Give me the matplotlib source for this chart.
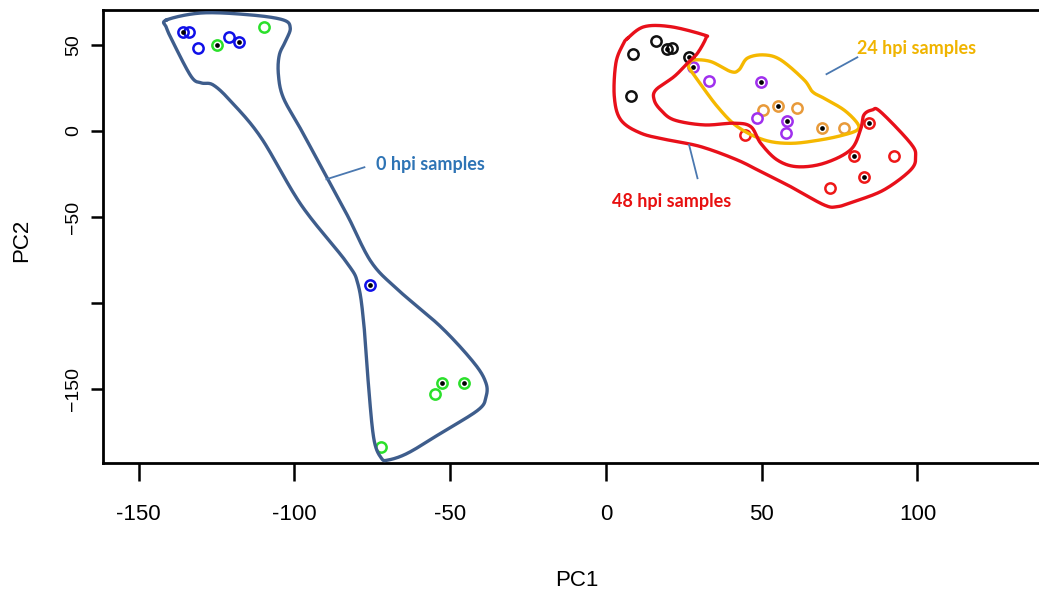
import numpy as np
import matplotlib
matplotlib.use("Agg")
import matplotlib.pyplot as plt

# ---------------- data ----------------
pc1 = [-135.7, -133.8, -130.9, -124.7, -120.9, -117.6, -109.7, -75.6, -52.7, -54.8, -45.6, -72.1,
       8.8, 16.1, 19.6, 21.1, 26.7, 28.1, 33.1, 8.2,
       49.9, 50.5, 55.2, 61.4, 48.4, 58.0, 57.7, 69.2, 76.5,
       84.4, 44.6, 79.7, 92.4, 82.9, 71.9]
pc2 = [57.7, 57.7, 48.1, 50.0, 54.5, 51.6, 60.7, -89.5, -146.7, -153.1, -146.7, -183.5,
       44.8, 52.5, 47.7, 48.5, 42.8, 37.4, 29.1, 20.3,
       28.5, 12.2, 14.5, 13.6, 7.4, 6.0, -1.4, 1.7, 1.7,
       4.8, -2.3, -14.5, -14.5, -26.9, -33.0]
point_colors = ["blue", "blue", "blue", "green", "blue", "blue", "green", "blue", "green", "green", "green", "green",
                "black", "black", "black", "black", "black", "purple", "purple", "black",
                "purple", "orange", "orange", "orange", "purple", "purple", "purple", "orange", "orange",
                "red", "red", "red", "red", "red", "red"]
has_dot = [1, 0, 0, 1, 0, 1, 0, 1, 1, 0, 1, 0,
           0, 0, 1, 0, 1, 1, 0, 0,
           1, 0, 1, 0, 0, 1, 0, 1, 0,
           1, 0, 1, 0, 1, 0]

hull0_x = [-141.0, -129.5, -113.8, -103.5, -101.3, -102.6, -104.8, -105.1, -103.5, -97.8, -89.1, -82.7,
           -75.3, -66.7, -52.9, -42.3, -38.5, -38.5, -41.0, -52.9, -63.5, -69.9, -72.1, -74.4,
           -76.0, -77.6, -79.5, -83.3, -97.8, -110.6, -120.2, -126.0, -129.8, -133.0, -138.5, -141.0]
hull0_y = [64.5, 68.6, 67.4, 64.5, 59.9, 52.9, 44.2, 32.6, 19.2, 0.6, -28.5, -50.0,
           -76.2, -92.4, -114.0, -134.9, -146.5, -154.7, -162.2, -175.6, -187.2, -191.3, -190.1, -179.7,
           -152.3, -114.0, -89.5, -76.2, -43.0, -4.1, 16.9, 26.7, 27.9, 31.4, 50.0, 59.9]

hull48_x = [7.0, 12.3, 20.8, 31.5, 32.1, 29.4, 26.2, 21.9, 16.0, 15.5, 17.6, 21.9, 31.5, 41.1, 46.5,
            49.7, 55.0, 61.4, 70.0, 78.5, 81.7, 82.8, 85.5, 88.1, 97.8, 99.4, 97.8, 89.2, 79.6, 74.3,
            70.0, 59.3, 50.7, 42.2, 30.4, 19.8, 11.2, 4.8, 2.7, 3.2, 5.4]
hull48_y = [53.9, 60.6, 60.6, 55.8, 53.9, 45.2, 39.4, 31.6, 23.8, 18.0, 12.2, 6.4, 3.5, 4.5, 2.5,
            -7.2, -16.9, -20.8, -18.8, -11.0, 0.6, 9.3, 12.2, 11.2, -7.2, -14.9, -22.7, -34.3, -41.1, -44.0,
            -43.0, -32.4, -24.6, -16.9, -9.1, -5.2, -1.3, 6.4, 19.9, 39.4, 50.0]

hull24_x = [26.7, 28.3, 33.7, 40.1, 42.7, 45.4, 50.7, 56.1, 63.6, 66.3, 70.0, 76.4, 80.7, 80.7,
            76.4, 68.9, 59.3, 50.7, 42.2, 35.8, 29.4, 26.7]
hull24_y = [39.4, 41.3, 40.3, 34.5, 35.5, 42.3, 44.2, 41.3, 29.7, 22.8, 19.0, 12.2, 4.5, 0.6,
            -2.3, -5.2, -7.2, -5.2, 2.5, 14.1, 29.7, 36.6]

group_labels = ["0 hpi samples", "24 hpi samples", "48 hpi samples"]
label_pos = [(-73.7, -19.8), (80.7, 48.1), (2.1, -41.1)]
leader_from = [(-89.7, -28.1), (70.8, 33.0), (26.7, -8.1)]
leader_to = [(-77.5, -21.1), (80.7, 42.8), (29.4, -27.5)]

x_ticks = [-150, -100, -50, 0, 50, 100]
x_ticklabels = ["-150", "-100", "-50", "0", "50", "100"]
y_ticks = [50, 0, -50, -100, -150]
y_ticklabels = ["50", "0", "\u221250", "", "\u2212150"]

# ---------------- styling ----------------
color_map = {"blue": "#1010E8", "green": "#2BE02B", "black": "#111111", "purple": "#A030EE",
             "orange": "#E89A3A", "red": "#EE1818"}
hull_colors = ["#3E5D8C", "#F5B800", "#E8101A"]
label_colors = ["#2E74B5", "#F0B400", "#E81010"]


def smooth_closed(xs, ys, n=24):
    P = np.column_stack([xs, ys]).astype(float)
    m = len(P)
    out = []
    for i in range(m):
        p0, p1, p2, p3 = P[(i - 1) % m], P[i], P[(i + 1) % m], P[(i + 2) % m]
        t = np.linspace(0, 1, n, endpoint=False)[:, None]
        pts = 0.5 * ((2 * p1) + (-p0 + p2) * t + (2 * p0 - 5 * p1 + 4 * p2 - p3) * t ** 2
                     + (-p0 + 3 * p1 - 3 * p2 + p3) * t ** 3)
        out.append(pts)
    out = np.vstack(out + [P[:1]])
    return out[:, 0], out[:, 1]


fig = plt.figure(figsize=(10.39, 5.97), dpi=100)
ax = fig.add_axes([103.3 / 1039, (597 - 463.3) / 597, (1039 - 103.3) / 1039, (463.3 - 10) / 597])
ax.set_xlim(-161.3, 139.0)
ax.set_ylim(-193.2, 70.3)

# points
for x, y, c, d in zip(pc1, pc2, point_colors, has_dot):
    ax.plot(x, y, marker="o", ms=7.4, mfc="none", mec=color_map[c], mew=1.8, ls="none", zorder=3)
    if d:
        ax.plot(x, y, marker="o", ms=3.4, mfc="black", mec="black", mew=0, ls="none", zorder=4)

# hulls
for hx, hy, hc in [(hull0_x, hull0_y, hull_colors[0]), (hull24_x, hull24_y, hull_colors[1]),
                   (hull48_x, hull48_y, hull_colors[2])]:
    sx, sy = smooth_closed(hx, hy)
    ax.plot(sx, sy, color=hc, lw=2.4, zorder=5, solid_joinstyle="round")

# labels + leaders
for lab, (lx, ly), (ax0, ay0), (ax1, ay1), lc in zip(group_labels, label_pos, leader_from, leader_to, label_colors):
    ax.plot([ax0, ax1], [ay0, ay1], color="#4A78B0", lw=1.3, zorder=5)
    ax.text(lx, ly, lab, color=lc, fontsize=13, fontweight="bold", family=["Lato", "DejaVu Sans"],
            ha="left", va="center", zorder=6)

# axes style
for s in ["top", "bottom", "left"]:
    ax.spines[s].set_linewidth(2.0)
    ax.spines[s].set_color("black")
ax.spines["right"].set_visible(False)

ax.set_xticks(x_ticks)
ax.set_xticklabels(x_ticklabels, family=["Liberation Sans", "DejaVu Sans"], fontsize=16)
ax.set_yticks(y_ticks)
ax.set_yticklabels(y_ticklabels, family=["Liberation Sans", "DejaVu Sans"], fontsize=14,
                   rotation=90, va="center")
ax.tick_params(axis="x", length=13, width=1.8, pad=16)
ax.tick_params(axis="y", length=9, width=1.8, pad=6)

fig.text(577 / 1039, 1 - 580 / 597, "PC1", ha="center", va="center", fontsize=16,
         family=["Liberation Sans", "DejaVu Sans"])
fig.text(22 / 1039, 1 - 240 / 597, "PC2", ha="center", va="center", fontsize=16, rotation=90,
         family=["Liberation Sans", "DejaVu Sans"])

fig.savefig("out.png", dpi=100)
